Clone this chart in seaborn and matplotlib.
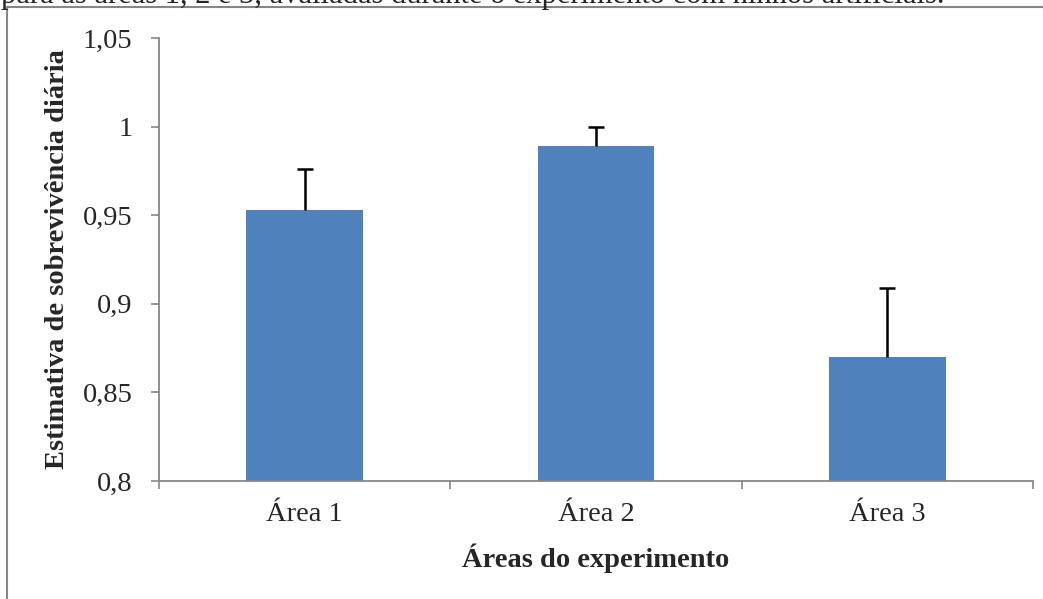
import matplotlib
matplotlib.use("Agg")
import matplotlib.pyplot as plt
import seaborn as sns
from matplotlib.lines import Line2D
from matplotlib.ticker import FixedLocator, FuncFormatter

# data
areas = ["Área 1", "Área 2", "Área 3"]
survival = [0.953, 0.989, 0.870]
err_up = [0.023, 0.011, 0.039]
yticks = [0.8, 0.85, 0.9, 0.95, 1.0, 1.05]

bar_color = "#4F81BD"
axis_gray = "#868686"
fs = 20.5

sns.set_style("white")
plt.rcParams["font.family"] = ["Liberation Serif", "DejaVu Serif"]

W, H = 1043, 599
fig = plt.figure(figsize=(W / 100, H / 100), dpi=100)
ax = fig.add_axes([159 / W, (H - 481) / H, (1033 - 159) / W, (481 - 38) / H])

sns.barplot(x=areas, y=survival, color=bar_color, width=0.4,
            saturation=1, ax=ax, edgecolor="none")
eb = ax.errorbar(x=list(range(len(areas))), y=survival, yerr=[[0] * 3, err_up],
                 fmt="none", ecolor="black", elinewidth=1.8, capsize=6,
                 capthick=1.8, zorder=5)
# only the upper cap is drawn in the reference
eb[1][0].set_visible(False)

ax.set_ylim(0.8, 1.05)
ax.set_xlim(-0.5, 2.5)
ax.set_yticks(yticks)
ax.yaxis.set_major_formatter(FuncFormatter(lambda v, p: f"{v:g}".replace(".", ",")))

# Excel-style category axis: ticks between categories, labels centered
ax.xaxis.set_major_locator(FixedLocator([-0.5, 0.5, 1.5, 2.5]))
ax.xaxis.set_major_formatter(FuncFormatter(lambda v, p: ""))
ax.xaxis.set_minor_locator(FixedLocator([0, 1, 2]))
ax.xaxis.set_minor_formatter(FuncFormatter(lambda v, p: areas[int(round(v))]))
ax.tick_params(axis="x", which="major", direction="out", length=6,
               width=1.2, color=axis_gray, bottom=True)
ax.tick_params(axis="x", which="minor", length=0, pad=15, labelsize=fs,
               bottom=True)
ax.tick_params(axis="y", direction="out", length=6, width=1.2,
               color=axis_gray, left=True, pad=13, labelsize=fs)

for side in ["top", "right"]:
    ax.spines[side].set_visible(False)
for side in ["left", "bottom"]:
    ax.spines[side].set_color(axis_gray)
    ax.spines[side].set_linewidth(1.3)

ax.set_xlabel("Áreas do experimento", fontsize=fs, fontweight="bold")
ax.set_ylabel("Estimativa de sobrevivência diária", fontsize=fs,
              fontweight="bold")
ax.yaxis.set_label_coords(-(159 - 58) / (1033 - 159), 0.5)
ax.xaxis.set_label_coords(0.5, -(558 - 481) / (481 - 38))
ax.xaxis.label.set_va("center")
ax.yaxis.label.set_va("center")

# chart frame (top and left edges visible, rest cut off)
fig.add_artist(Line2D([7 / W, 7 / W], [0, 1 - 7 / H], color=axis_gray, lw=1.5))
fig.add_artist(Line2D([7 / W, 1], [1 - 7 / H, 1 - 7 / H], color=axis_gray, lw=1.5))

# cut-off caption line from the page above the chart
fig.text(1 / W, 1 - 3.5 / H,
         "para as áreas 1, 2 e 3, avaliadas durante o experimento com ninhos artificiais.",
         fontsize=22, va="baseline", ha="left")

fig.savefig("out.png", dpi=100)
